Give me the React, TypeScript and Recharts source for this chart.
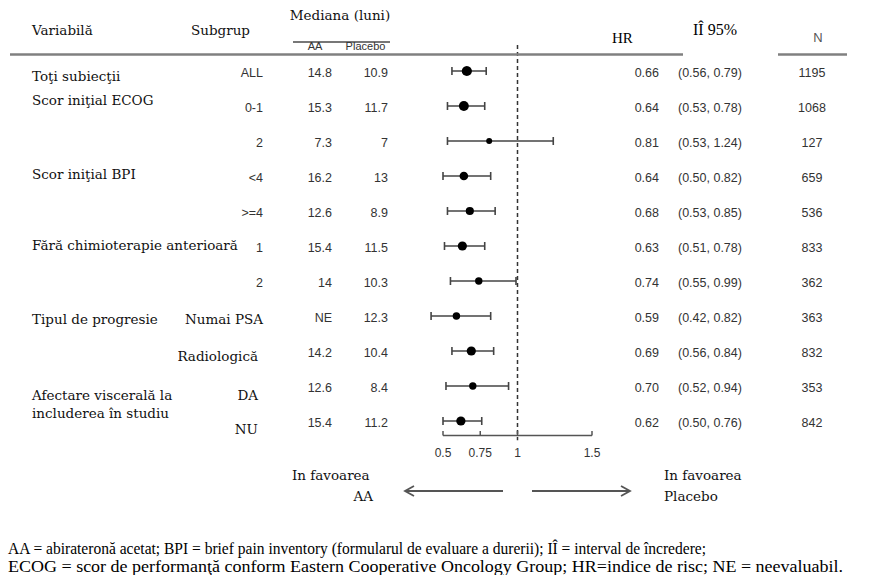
import React from "react";
import { ScatterChart, Scatter, XAxis, YAxis, ErrorBar, ReferenceLine } from "recharts";

// ---------- data ----------
const subgroups = ["ALL", "0-1", "2", "<4", ">=4", "1", "2", "Numai PSA", "Radiologică", "DA", "NU"];
const medianAA = ["14.8", "15.3", "7.3", "16.2", "12.6", "15.4", "14", "NE", "14.2", "12.6", "15.4"];
const medianPlacebo = ["10.9", "11.7", "7", "13", "8.9", "11.5", "10.3", "12.3", "10.4", "8.4", "11.2"];
const hazardRatio = [0.66, 0.64, 0.81, 0.64, 0.68, 0.63, 0.74, 0.59, 0.69, 0.7, 0.62];
const ciLow = [0.56, 0.53, 0.53, 0.5, 0.53, 0.51, 0.55, 0.42, 0.56, 0.52, 0.5];
const ciHigh = [0.79, 0.78, 1.24, 0.82, 0.85, 0.78, 0.99, 0.82, 0.84, 0.94, 0.76];
const patients = [1195, 1068, 127, 659, 536, 833, 362, 363, 832, 353, 842];
const variableLabels: { row: number; lines: string[] }[] = [
  { row: 0, lines: ["Toţi subiecţii"] },
  { row: 1, lines: ["Scor iniţial ECOG"] },
  { row: 3, lines: ["Scor iniţial BPI"] },
  { row: 5, lines: ["Fără chimioterapie anterioară"] },
  { row: 7, lines: ["Tipul de progresie"] },
  { row: 9, lines: ["Afectare viscerală la", "includerea în studiu"] },
];
const serifSubgroups = ["Numai PSA", "Radiologică", "DA", "NU"];
const xTicks = [0.5, 0.75, 1, 1.5];
const rowTicks = subgroups.map((_, i) => i);
const footnotes = [
  "AA = abirateronă acetat; BPI = brief pain inventory (formularul de evaluare a durerii); IÎ = interval de încredere;",
  "ECOG = scor de performanţă conform Eastern Cooperative Oncology Group; HR=indice de risc; NE = neevaluabil.",
];

// ---------- layout (styles only) ----------
const Y_TOP = -0.743;
const Y_BOTTOM = 10.414;
const X_DOMAIN: [number, number] = [0.4, 1.6];
const SERIF = "'DejaVu Serif', serif";
const TIMES = "'Liberation Serif', 'Times New Roman', serif";
const SANS = "'Liberation Sans', Arial, sans-serif";
const groupBaseline: Record<number, number[]> = { 0: [10], 1: [-1], 3: [3], 5: [4], 7: [8], 9: [14, 32] };
const serifSubBaseline: Record<string, { dy: number; end: number }> = {
  "Numai PSA": { dy: 8, end: 263 },
  "Radiologică": { dy: 10, end: 258 },
  DA: { dy: 14, end: 258 },
  NU: { dy: 13, end: 258 },
};
const footnoteLayout = [
  { y: 554, len: 698 },
  { y: 572, len: 835 },
];

const rows = subgroups.map((s, i) => ({
  x: hazardRatio[i],
  y: i,
  err: [hazardRatio[i] - ciLow[i], ciHigh[i] - hazardRatio[i]],
  n: patients[i],
}));

const radius = (n: number) => 2 + 0.09 * Math.sqrt(n);

const Dot = (p: any) => <circle cx={p.cx} cy={p.cy} r={radius(p.payload.n)} fill="#000" />;

const LeftTick = (p: any) => {
  const i = p.payload.value as number;
  const y = p.y as number;
  const group = variableLabels.find((g) => g.row === i);
  const sub = subgroups[i];
  const isSerif = serifSubgroups.includes(sub);
  return (
    <g>
      {group &&
        group.lines.map((ln, k) => (
          <text key={k} x={32} y={y + groupBaseline[i][k]} fontFamily={SERIF} fontSize={13.5} fill="#111">
            {ln}
          </text>
        ))}
      {isSerif ? (
        <text x={serifSubBaseline[sub].end} y={y + serifSubBaseline[sub].dy} textAnchor="end" fontFamily={SERIF} fontSize={13.5} fill="#111">
          {sub}
        </text>
      ) : (
        <text x={263} y={y + 6} textAnchor="end" fontFamily={SANS} fontSize={12.5} fill="#333">
          {sub}
        </text>
      )}
      <text x={332} y={y + 6} textAnchor="end" fontFamily={SANS} fontSize={12.5} fill="#333">
        {medianAA[i]}
      </text>
      <text x={388} y={y + 6} textAnchor="end" fontFamily={SANS} fontSize={12.5} fill="#333">
        {medianPlacebo[i]}
      </text>
    </g>
  );
};

const RightTick = (p: any) => {
  const i = p.payload.value as number;
  const y = p.y as number;
  return (
    <g fontFamily={SANS} fontSize={12.5} fill="#333">
      <text x={659} y={y + 6} textAnchor="end">
        {hazardRatio[i].toFixed(2)}
      </text>
      <text x={678} y={y + 6}>
        {`(${ciLow[i].toFixed(2)}, ${ciHigh[i].toFixed(2)})`}
      </text>
      <text x={812} y={y + 6} textAnchor="middle">
        {patients[i]}
      </text>
    </g>
  );
};

const XTick = (p: any) => (
  <g>
    <line x1={p.x} x2={p.x} y1={p.y - 4.5} y2={p.y} stroke="#555" strokeWidth={1.5} />
    <text x={p.x} y={p.y + 21} textAnchor="middle" fontFamily={SANS} fontSize={12} fill="#333">
      {String(p.payload.value)}
    </text>
  </g>
);

export default function App() {
  return (
    <div style={{ position: "absolute", left: 0, top: 0, width: 874, height: 575, background: "#fff" }}>
      <ScatterChart width={874} height={575} margin={{ top: 45, bottom: 109.5, left: 0, right: 0 }}>
        <XAxis
          type="number"
          dataKey="x"
          domain={X_DOMAIN}
          allowDataOverflow
          ticks={xTicks}
          interval={0}
          axisLine={false}
          tickLine={false}
          tickSize={0}
          tickMargin={0}
          height={30}
          tick={<XTick />}
        />
        <YAxis
          yAxisId="L"
          type="number"
          dataKey="y"
          domain={[Y_TOP, Y_BOTTOM]}
          allowDataOverflow
          reversed
          ticks={rowTicks}
          interval={0}
          axisLine={false}
          tickLine={false}
          width={428.1}
          tick={<LeftTick />}
        />
        <YAxis
          yAxisId="R"
          orientation="right"
          type="number"
          domain={[Y_TOP, Y_BOTTOM]}
          allowDataOverflow
          reversed
          ticks={rowTicks}
          interval={0}
          axisLine={false}
          tickLine={false}
          width={267.1}
          tick={<RightTick />}
        />
        <ReferenceLine
          yAxisId="L"
          segment={[
            { x: 1, y: Y_TOP },
            { x: 1, y: 10.55 },
          ]}
          ifOverflow="visible"
          stroke="#333"
          strokeWidth={1.5}
          strokeDasharray="4 3"
        />
        <ReferenceLine
          yAxisId="L"
          segment={[
            { x: 0.5, y: Y_BOTTOM },
            { x: 1.5, y: Y_BOTTOM },
          ]}
          ifOverflow="visible"
          stroke="#555"
          strokeWidth={1.5}
        />
        <Scatter yAxisId="L" data={rows} dataKey="y" shape={Dot} isAnimationActive={false}>
          <ErrorBar dataKey="err" direction="x" width={4} stroke="#444" strokeWidth={1.6} />
        </Scatter>
      </ScatterChart>
      <svg width={874} height={575} style={{ position: "absolute", left: 0, top: 0, pointerEvents: "none" }}>
        <text x={32} y={35} fontFamily={SERIF} fontSize={13.5} fill="#111">Variabilă</text>
        <text x={191} y={35} fontFamily={SERIF} fontSize={13.5} fill="#111">Subgrup</text>
        <text x={340} y={20} textAnchor="middle" fontFamily={SERIF} fontSize={13.5} fill="#111">Mediana (luni)</text>
        <line x1={293} x2={390} y1={42} y2={42} stroke="#777" strokeWidth={2} />
        <text x={315} y={50} textAnchor="middle" fontFamily={SANS} fontSize={11} fill="#333">AA</text>
        <text x={365.5} y={50} textAnchor="middle" fontFamily={SANS} fontSize={11} fill="#333">Placebo</text>
        <text x={612} y={43} fontFamily={TIMES} fontSize={15} fill="#000">HR</text>
        <text x={693} y={35} fontFamily={TIMES} fontSize={16} fill="#000">IÎ 95%</text>
        <text x={818} y={42} textAnchor="middle" fontFamily={SANS} fontSize={13} fill="#555">N</text>
        <line x1={10} x2={683} y1={54.5} y2={54.5} stroke="#808080" strokeWidth={2.5} />
        <line x1={778} x2={847} y1={54.5} y2={54.5} stroke="#808080" strokeWidth={2.5} />

        <text x={292} y={480} fontFamily={SERIF} fontSize={13.5} fill="#111">In favoarea</text>
        <text x={373} y={501} textAnchor="end" fontFamily={SERIF} fontSize={13.5} fill="#111">AA</text>
        <text x={664} y={480} fontFamily={SERIF} fontSize={13.5} fill="#111">In favoarea</text>
        <text x={664} y={501} fontFamily={SERIF} fontSize={13.5} fill="#111">Placebo</text>
        <g stroke="#555" strokeWidth={1.8} fill="none">
          <line x1={503} x2={405} y1={491} y2={491} />
          <polyline points="414,486 405,491 414,496" />
          <line x1={532} x2={630} y1={491} y2={491} />
          <polyline points="621,486 630,491 621,496" />
        </g>

        {footnotes.map((t, k) => (
          <text
            key={k}
            x={8}
            y={footnoteLayout[k].y}
            fontFamily={TIMES}
            fontSize={16}
            fill="#000"
            textLength={footnoteLayout[k].len}
            lengthAdjust="spacingAndGlyphs"
          >
            {t}
          </text>
        ))}
      </svg>
    </div>
  );
}
